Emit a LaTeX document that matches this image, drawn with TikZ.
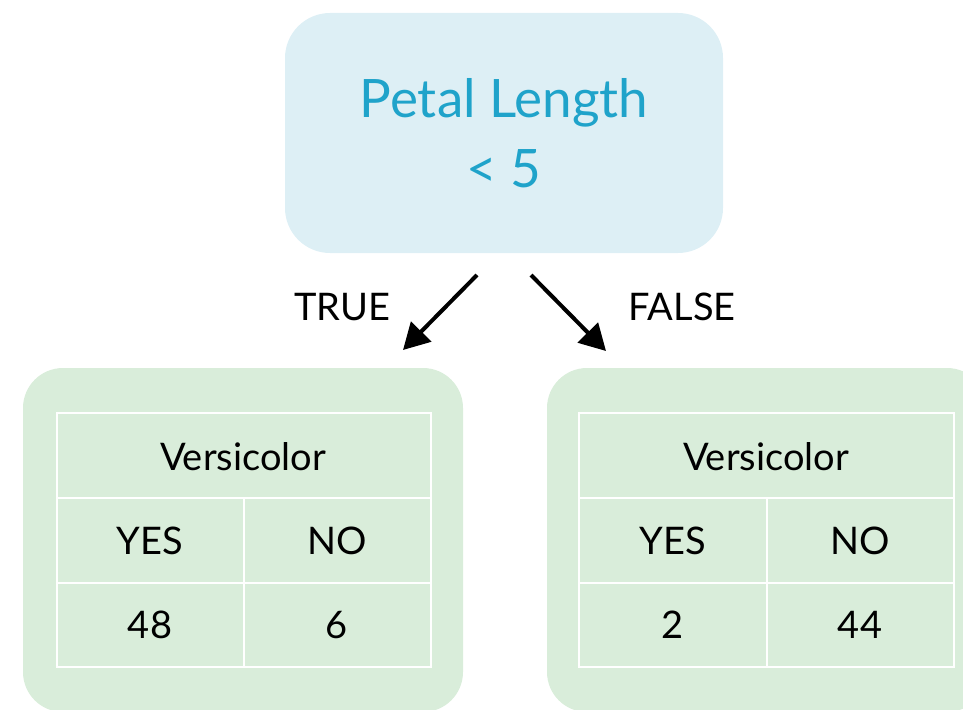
\documentclass[tikz,border=0pt]{standalone}
\usepackage{fontspec}
\setmainfont{Lato}
\usetikzlibrary{arrows.meta}
\definecolor{splitblue}{HTML}{DDEFF5}
\definecolor{splittext}{HTML}{1FA3CA}
\definecolor{leafgreen}{HTML}{D9EDDA}
\tikzset{
  splitbox/.style={fill=splitblue, rounded corners=45pt, minimum width=438pt, minimum height=240pt, inner sep=0pt},
  leafbox/.style={fill=leafgreen, rounded corners=40pt, minimum width=440pt, minimum height=344pt, inner sep=0pt},
  grid/.style={draw=white, line width=2pt},
  cell/.style={font=\fontsize{38}{40}\selectfont, text=black, inner sep=0pt},
  branch/.style={line width=4pt, -{Triangle[length=26pt,width=28pt]}},
  branchlabel/.style={font=\fontsize{38}{40}\selectfont, inner sep=0pt}
}
\begin{document}
\begin{tikzpicture}[x=1pt, y=-1pt]
\useasboundingbox (0,0) rectangle (963,709);
\clip (0,0) rectangle (963,709);

% root split
\node[splitbox, align=center, text=splittext, font=\fontsize{53}{72}\selectfont] (root) at (504,133) {Petal Length\\[-2pt]\symbol{60} 5};

% leaves
\node[leafbox] (leafL) at (243,540) {};
\node[leafbox] (leafR) at (767,540) {};

% left table
\draw[grid] (57,413) rectangle (431,667);
\draw[grid] (57,498) -- (431,498) (57,583) -- (431,583) (244,498) -- (244,667);
\node[cell] (lhead) at (243,457) {Versicolor};
\node[cell] (lyes) at (150,541) {YES};
\node[cell] (lno) at (337,541) {NO};
\node[cell] (lyesn) at (150,625) {48};
\node[cell] (lnon) at (337,625) {6};

% right table
\draw[grid] (579,413) rectangle (954,667);
\draw[grid] (579,498) -- (954,498) (579,583) -- (954,583) (767,498) -- (767,667);
\node[cell] (rhead) at (766,457) {Versicolor};
\node[cell] (ryes) at (673,541) {YES};
\node[cell] (rno) at (860,541) {NO};
\node[cell] (ryesn) at (673,625) {2};
\node[cell] (rnon) at (860,625) {44};

% branches
\coordinate (tS) at (477,275);
\coordinate (tE) at (403,350);
\coordinate (fS) at (531,275);
\coordinate (fE) at (606,351);
\draw[branch] (tS) -- (tE);
\draw[branch] (fS) -- (fE);
\node[branchlabel] (ltrue) at (342,307) {TRUE};
\node[branchlabel] (lfalse) at (682,307) {FALSE};
\end{tikzpicture}
\end{document}
